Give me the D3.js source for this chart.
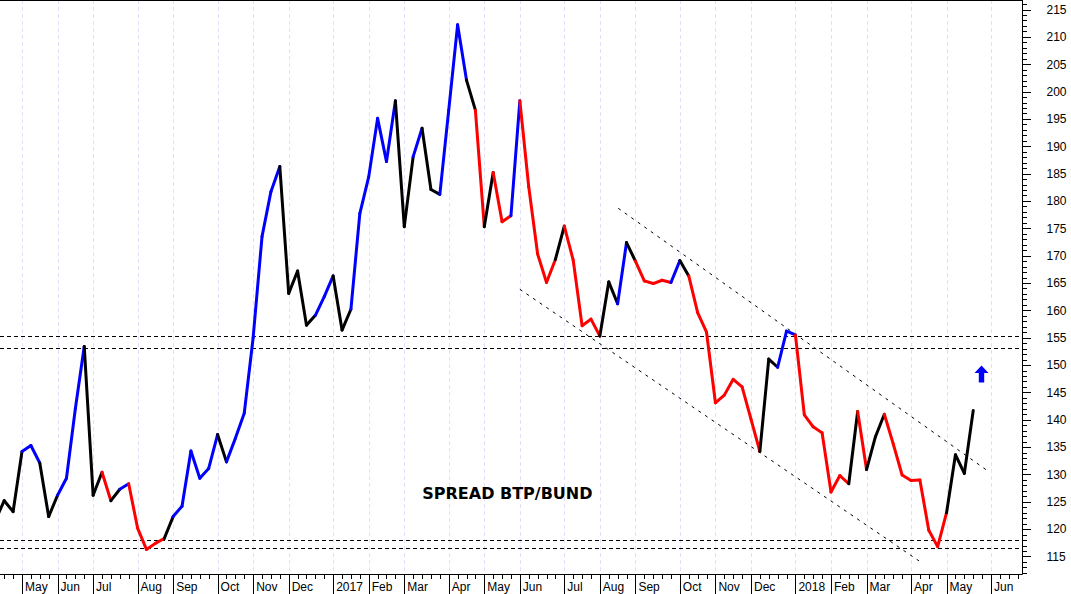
<!DOCTYPE html>
<html><head><meta charset="utf-8">
<script src="https://cdn.jsdelivr.net/npm/d3@7"></script>
<style>html,body{margin:0;padding:0;background:#fff;}svg{display:block}</style>
</head><body>
<svg id="chart" width="1071" height="594"></svg>
<script>
// ---- DATA ----
// weekly observations; week index 0 = first week of May 2016
const firstWeek = -3;
const spread = [
  121.6,
  125.2, 123.2, 134.2, 135.3, 132.1, 122.3, 126.2, 129.3, 142.0, 153.4,
  126.2, 130.4, 125.2, 127.3, 128.3, 120.2, 116.3, 117.4, 118.3, 122.3,
  124.2, 134.3, 129.3, 131.1, 137.3, 132.3, 136.6, 141.2, 155.0, 173.5,
  181.7, 186.3, 163.1, 167.2, 157.3, 159.1, 162.5, 166.3, 156.4, 160.2,
  177.7, 184.4, 195.1, 187.2, 198.3, 175.3, 188.1, 193.3, 182.1, 181.2,
  196.6, 212.2, 202.1, 196.6, 175.3, 185.2, 176.2, 177.3, 198.3, 182.6,
  170.3, 165.1, 169.3, 175.4, 169.2, 157.2, 158.4, 155.3, 165.2, 161.2,
  172.4, 169.0, 165.4, 164.9, 165.5, 165.1, 169.1, 166.3, 159.6, 156.0,
  143.1, 144.5, 147.4, 146.0, 140.1, 134.2, 151.1, 149.6, 156.2, 155.5,
  140.9, 138.7, 137.6, 126.8, 129.8, 128.3, 141.5, 130.9, 136.9, 141.0,
  135.6, 129.9, 128.9, 129.0, 119.8, 116.8, 123.0, 133.6, 130.2, 141.7
];
// trend state of each week (colours the segment ending at that week): U=up, D=down, N=neutral
const trend = [
  "N",
  "N","N","N","U","U","N","N","U","U","U",
  "N","N","D","N","U","D","D","D","D","N",
  "U","U","U","U","U","N","U","U","U","U",
  "U","U","N","N","N","N","U","U","N","N",
  "U","U","U","U","U","N","N","U","N","N",
  "U","U","U","N","D","N","D","D","U","D",
  "D","D","D","N","D","D","D","D","N","N",
  "U","N","D","D","D","D","U","N","D","D",
  "D","D","D","D","D","D","N","N","U","U",
  "D","D","D","D","D","D","N","D","N","N",
  "D","D","D","D","D","D","D","N","N","N"
];
const monthLabels = ["May","Jun","Jul","Aug","Sep","Oct","Nov","Dec","2017","Feb","Mar","Apr","May",
  "Jun","Jul","Aug","Sep","Oct","Nov","Dec","2018","Feb","Mar","Apr","May","Jun"];
const monthWeeks = [0,4,8,13,17,22,26,30,35,39,43,48,52,56,61,65,69,74,78,82,87,91,95,100,104,109];
const levels = [155.4, 153.1, 118.1, 116.5];           // horizontal support/resistance
const channelUpper = [[67.07, 178.66], [108.5, 130.8]];  // [week, value]
const channelLower = [[56.0, 163.85], [100.9, 114.2]];
const yMajor = d3.range(115, 216, 5);
const yMinor = d3.range(112, 217, 1);
const titleText = "SPREAD BTP/BUND";
const titlePos = [54.6, 125.5];
const arrowPos = {week: 107.93, top: 149.9, bottom: 146.8};

// ---- CHART ----
const W = 1022, H = 574;
const svg = d3.select("#chart");
const x = d3.scaleLinear().domain([-22/8.89, 1000/8.89]).range([0, W]);
const y = d3.scaleLinear().domain([111.8, 216.74]).range([H, 0]);
const colour = d3.scaleOrdinal().domain(["U","D","N"]).range(["#0000ff","#ff0000","#000000"]);

svg.append("defs").append("clipPath").attr("id","clip")
  .append("rect").attr("x",0).attr("y",0).attr("width",W).attr("height",H);

// grid
svg.append("g").selectAll("line").data(monthWeeks).join("line")
  .attr("x1", d => Math.round(x(d)) + 0.5).attr("x2", d => Math.round(x(d)) + 0.5)
  .attr("y1", 0).attr("y2", H)
  .attr("stroke", "#e2e0f8").attr("stroke-width", 1).attr("stroke-dasharray", "4,3");

const plot = svg.append("g").attr("clip-path","url(#clip)");

// horizontal levels
plot.selectAll("line.lvl").data(levels).join("line").attr("class","lvl")
  .attr("x1", 0).attr("x2", W)
  .attr("y1", d => Math.round(y(d)) + 0.5).attr("y2", d => Math.round(y(d)) + 0.5)
  .attr("stroke", "#000").attr("stroke-width", 1).attr("stroke-dasharray", "4,3");

// channel
plot.selectAll("line.ch").data([channelUpper, channelLower]).join("line").attr("class","ch")
  .attr("x1", d => x(d[0][0])).attr("y1", d => y(d[0][1]))
  .attr("x2", d => x(d[1][0])).attr("y2", d => y(d[1][1]))
  .attr("stroke", "#000").attr("stroke-width", 1).attr("stroke-dasharray", "3,5");

// series segments
const pts = spread.map((v, i) => ({w: firstWeek + i, v, t: trend[i]}));
const segs = pts.slice(1).map((p, i) => ({a: pts[i], b: p, t: p.t}));
const line = d3.line().x(d => x(d.w)).y(d => y(d.v));
plot.selectAll("path.seg").data(segs).join("path").attr("class","seg")
  .attr("d", d => line([d.a, d.b]))
  .attr("fill","none").attr("stroke", d => colour(d.t))
  .attr("stroke-width", 3).attr("stroke-linecap","round");

// title
svg.append("text").attr("x", x(titlePos[0])).attr("y", y(titlePos[1]))
  .attr("text-anchor","middle").attr("font-family","DejaVu Sans, Verdana, sans-serif")
  .attr("font-weight","bold").attr("font-size", 16).attr("fill","#000").text(titleText);

// arrow
{
  const cx = x(arrowPos.week), t = y(arrowPos.top), b = y(arrowPos.bottom);
  const hh = 7.5, hw = 7, sw = 2.7;
  svg.append("path")
    .attr("d", `M${cx},${t} L${cx+hw},${t+hh} L${cx+sw},${t+hh} L${cx+sw},${b} L${cx-sw},${b} L${cx-sw},${t+hh} L${cx-hw},${t+hh} Z`)
    .attr("fill","#0000ff");
}

// frame
svg.append("line").attr("x1",0).attr("x2",W).attr("y1",0.5).attr("y2",0.5).attr("stroke","#000");

// y axis (right)
const yAxisG = svg.append("g").attr("transform", `translate(${W + 0.5},0)`);
yAxisG.append("g").call(d3.axisRight(y).tickValues(yMinor).tickSize(4).tickFormat(""))
  .call(g => g.select(".domain").remove());
yAxisG.append("g").call(d3.axisRight(y).tickValues(yMajor).tickSize(8).tickPadding(16).tickFormat(d3.format("d")))
  .call(g => g.select(".domain").remove())
  .call(g => g.selectAll("text").attr("font-family","Liberation Sans, Arial, sans-serif").attr("font-size",12).attr("fill","#000"));
yAxisG.append("line").attr("x1",0).attr("x2",0).attr("y1",0).attr("y2",H + 0.5).attr("stroke","#000");

// x axis (bottom)
const xAxisG = svg.append("g").attr("transform", `translate(0,${H + 0.5})`);
xAxisG.append("g").call(d3.axisBottom(x).tickValues(d3.range(-2, 113)).tickSize(4).tickFormat(""))
  .call(g => g.select(".domain").remove());
xAxisG.append("g").call(d3.axisBottom(x).tickValues(monthWeeks).tickSize(20).tickFormat(""))
  .call(g => g.select(".domain").remove());
xAxisG.append("line").attr("x1",0).attr("x2",W + 0.5).attr("y1",0).attr("y2",0).attr("stroke","#000");
xAxisG.selectAll("text.mlab").data(monthWeeks).join("text").attr("class","mlab")
  .attr("x", d => x(d) + 3).attr("y", 16)
  .attr("font-family","Liberation Sans, Arial, sans-serif").attr("font-size",12).attr("fill","#000")
  .text((d, i) => monthLabels[i]);
svg.selectAll(".tick line").attr("shape-rendering","crispEdges");
</script>
</body></html>
